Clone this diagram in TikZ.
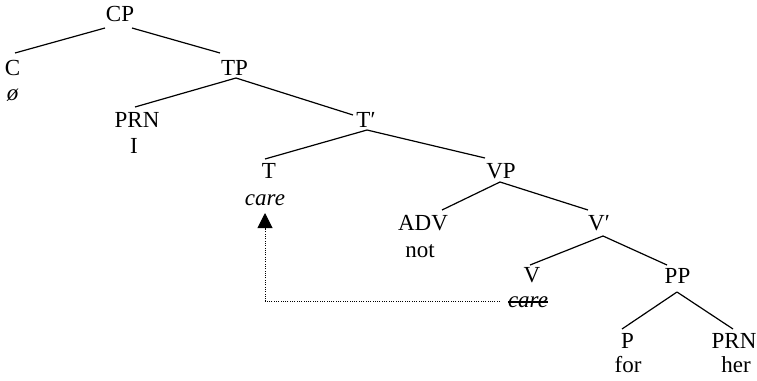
\documentclass[tikz,border=0pt]{standalone}
\usepackage{fontspec}
\setmainfont{Liberation Serif}
\usetikzlibrary{arrows.meta}
\begin{document}
\begin{tikzpicture}[x=1pt,y=-1pt,
  tn/.style={anchor=base,inner sep=0pt,font=\fontsize{23}{27}\selectfont},
  edge/.style={line width=1.2pt},
  trace/.style={line width=1pt,dash pattern=on 1pt off 1.3pt}]
\useasboundingbox (0,0) rectangle (757,380);
% labels
\node[tn] (CP) at (120,21.7) {CP};
\node[tn] (C) at (12.5,75) {C};
\node[tn] (Cw) at (12.5,100) {\itshape ø};
\node[tn] (TP) at (234.5,75) {TP};
\node[tn] (PRNa) at (137,127) {PRN};
\node[tn] (Iw) at (134,153) {I};
\node[tn] (Tb) at (366,127) {T′};
\node[tn] (T) at (269,178) {T};
\node[tn] (Tw) at (265,205) {\itshape care};
\node[tn] (VP) at (501,178) {VP};
\node[tn] (ADV) at (423,230) {ADV};
\node[tn] (notw) at (420,257) {not};
\node[tn] (Vb) at (599,230) {V′};
\node[tn] (V) at (532,282) {V};
\node[tn] (Vw) at (528,307) {\itshape care};
\node[tn] (PP) at (677.5,283) {PP};
\node[tn] (P) at (627.5,348) {P};
\node[tn] (forw) at (628,372) {for};
\node[tn] (PRNb) at (734,348) {PRN};
\node[tn] (herw) at (736,372) {her};
% branches
\draw[edge] ([shift={(-15,6.3)}]CP.base) -- ([shift={(2.5,-22)}]C.base);
\draw[edge] ([shift={(12,6.3)}]CP.base) -- ([shift={(-14.5,-22)}]TP.base);
\draw[edge] ([shift={(1.5,3)}]TP.base) -- ([shift={(-2,-20)}]PRNa.base);
\draw[edge] ([shift={(1.5,3)}]TP.base) -- ([shift={(-13,-12)}]Tb.base);
\draw[edge] ([shift={(1,3)}]Tb.base) -- ([shift={(-4,-19)}]T.base);
\draw[edge] ([shift={(1,3)}]Tb.base) -- ([shift={(-16,-20)}]VP.base);
\draw[edge] ([shift={(-1,4)}]VP.base) -- ([shift={(19,-20)}]ADV.base);
\draw[edge] ([shift={(-1,4)}]VP.base) -- ([shift={(-11,-20)}]Vb.base);
\draw[edge] ([shift={(4,6)}]Vb.base) -- ([shift={(-2,-17)}]V.base);
\draw[edge] ([shift={(4,6)}]Vb.base) -- ([shift={(-10.5,-18)}]PP.base);
\draw[edge] ([shift={(-0.5,9)}]PP.base) -- ([shift={(-5.5,-19)}]P.base);
\draw[edge] ([shift={(-0.5,9)}]PP.base) -- ([shift={(-1,-19)}]PRNb.base);
% strike-through of the trace
\draw[line width=1.2pt] ([yshift=5pt]Vw.base west) -- ([yshift=5pt]Vw.base east);
% movement arrow
\draw[trace,-{Triangle[width=15pt,length=15pt]}] ([shift={(-28,-6)}]Vw.base) -| ([shift={(0,8)}]Tw.base);
\end{tikzpicture}
\end{document}
